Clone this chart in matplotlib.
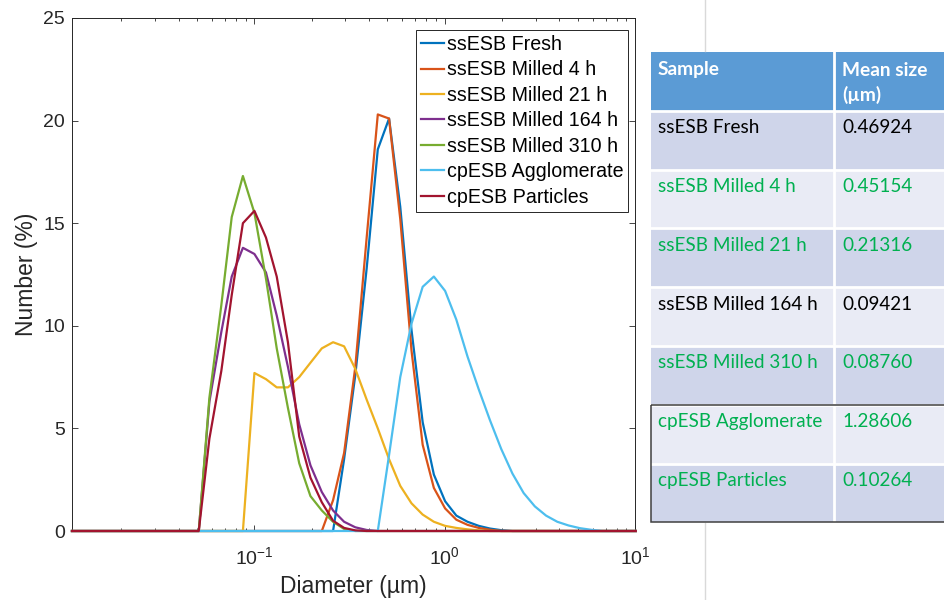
import matplotlib.pyplot as plt
from matplotlib.patches import Rectangle

plt.rcParams['font.family'] = ['Liberation Sans', 'DejaVu Sans']
plt.rcParams['mathtext.fontset'] = 'custom'
plt.rcParams['mathtext.rm'] = 'Liberation Sans'

# size classes of the analyser (um)
diameter_um = [0.011, 0.013, 0.015, 0.017, 0.020, 0.023, 0.026, 0.030, 0.034, 0.039,
               0.044, 0.051, 0.058, 0.067, 0.076, 0.087, 0.100, 0.115, 0.131, 0.150,
               0.172, 0.197, 0.226, 0.259, 0.296, 0.339, 0.389, 0.445, 0.510, 0.584,
               0.669, 0.766, 0.877, 1.005, 1.151, 1.318, 1.510, 1.729, 1.981, 2.269,
               2.599, 2.976, 3.409, 3.905, 4.472, 5.122, 5.867, 6.720, 7.697, 8.816,
               10.097]

# number distributions (%)
ss_fresh = [0, 0, 0, 0, 0, 0, 0, 0, 0, 0,
            0, 0, 0, 0, 0, 0, 0, 0, 0, 0,
            0, 0, 0, 0, 3.5, 7.6, 12.8, 18.6, 20.1, 15.8,
            9.8, 5.3, 2.75, 1.45, 0.75, 0.45, 0.25, 0.12, 0.04, 0,
            0, 0, 0, 0, 0, 0, 0, 0, 0, 0,
            0]
ss_4h = [0, 0, 0, 0, 0, 0, 0, 0, 0, 0,
         0, 0, 0, 0, 0, 0, 0, 0, 0, 0,
         0, 0, 0, 1.5, 3.8, 8.0, 14.3, 20.3, 20.1, 15.2,
         8.8, 4.2, 2.1, 1.1, 0.55, 0.3, 0.15, 0.06, 0, 0,
         0, 0, 0, 0, 0, 0, 0, 0, 0, 0,
         0]
ss_21h = [0, 0, 0, 0, 0, 0, 0, 0, 0, 0,
          0, 0, 0, 0, 0, 0, 7.7, 7.4, 7.0, 7.0,
          7.5, 8.2, 8.9, 9.2, 9.0, 7.9, 6.4, 5.0, 3.5, 2.2,
          1.35, 0.8, 0.45, 0.25, 0.15, 0.08, 0.03, 0, 0, 0,
          0, 0, 0, 0, 0, 0, 0, 0, 0, 0,
          0]
ss_164h = [0, 0, 0, 0, 0, 0, 0, 0, 0, 0,
           0, 0, 6.3, 9.7, 12.4, 13.8, 13.5, 12.6, 10.5, 8.0,
           5.2, 3.2, 1.9, 1.0, 0.45, 0.18, 0.05, 0, 0, 0,
           0, 0, 0, 0, 0, 0, 0, 0, 0, 0,
           0, 0, 0, 0, 0, 0, 0, 0, 0, 0,
           0]
ss_310h = [0, 0, 0, 0, 0, 0, 0, 0, 0, 0,
           0, 0, 6.5, 11.0, 15.3, 17.3, 15.5, 12.3, 8.9, 6.0,
           3.3, 1.7, 1.0, 0.45, 0.1, 0, 0, 0, 0, 0,
           0, 0, 0, 0, 0, 0, 0, 0, 0, 0,
           0, 0, 0, 0, 0, 0, 0, 0, 0, 0,
           0]
cp_agglomerate = [0, 0, 0, 0, 0, 0, 0, 0, 0, 0,
                  0, 0, 0, 0, 0, 0, 0, 0, 0, 0,
                  0, 0, 0, 0, 0, 0, 0, 0, 3.7, 7.5,
                  10.1, 11.9, 12.4, 11.7, 10.3, 8.5, 6.9, 5.4, 4.0, 2.8,
                  1.85, 1.2, 0.75, 0.45, 0.27, 0.14, 0.06, 0, 0, 0,
                  0]
cp_particles = [0, 0, 0, 0, 0, 0, 0, 0, 0, 0,
                0, 0, 4.5, 7.8, 11.5, 15.0, 15.6, 14.3, 12.4, 9.2,
                4.6, 2.6, 1.4, 0.5, 0.15, 0.03, 0, 0, 0, 0,
                0, 0, 0, 0, 0, 0, 0, 0, 0, 0,
                0, 0, 0, 0, 0, 0, 0, 0, 0, 0,
                0]

series = [ss_fresh, ss_4h, ss_21h, ss_164h, ss_310h, cp_agglomerate, cp_particles]
labels = ['ssESB Fresh', 'ssESB Milled 4 h', 'ssESB Milled 21 h', 'ssESB Milled 164 h',
          'ssESB Milled 310 h', 'cpESB Agglomerate', 'cpESB Particles']
colors = ['#0072BD', '#D95319', '#EDB120', '#7E2F8E', '#77AC30', '#4DBEEE', '#A2142F']

# table on the right
table_samples = ['ssESB Fresh', 'ssESB Milled 4 h', 'ssESB Milled 21 h', 'ssESB Milled 164 h',
                 'ssESB Milled 310 h', 'cpESB Agglomerate', 'cpESB Particles']
table_means = ['0.46924', '0.45154', '0.21316', '0.09421', '0.08760', '1.28606', '0.10264']
table_green = [False, True, True, False, True, True, True]

fig = plt.figure(figsize=(9.44, 6), dpi=100)

# pixel-coordinate overlay for the table
tab = fig.add_axes([0, 0, 1, 1])
tab.set_xlim(0, 944)
tab.set_ylim(600, 0)
tab.axis('off')

x0, xs, x1 = 651, 833.5, 960
top, pitch = 52, 58.8
tab.add_patch(Rectangle((x0, top), x1 - x0, pitch, color='#5B9BD5', lw=0))
tab.text(x0 + 7, top + 18, 'Sample', color='white', fontweight='bold',
         fontsize=13.8, family='Lato', va='center')
tab.text(xs + 9, top + 18, 'Mean size', color='white', fontweight='bold',
         fontsize=13.8, family='Lato', va='center')
tab.text(xs + 9, top + 43, '(µm)', color='white', fontweight='bold',
         fontsize=13.8, family='Lato', va='center')
for i, (name, val, grn) in enumerate(zip(table_samples, table_means, table_green)):
    y = top + pitch * (i + 1)
    fill = '#CFD5EA' if i % 2 == 0 else '#E9EBF5'
    tab.add_patch(Rectangle((x0, y), x1 - x0, pitch, color=fill, lw=0))
    tc = '#00B050' if grn else 'black'
    tab.text(x0 + 7, y + 17, name, color=tc, fontsize=13.6, family='Lato', va='center')
    tab.text(xs + 9, y + 17, val, color=tc, fontsize=13.6, family='Lato', va='center')
for i in range(1, 8):
    tab.plot([x0, x1], [top + pitch * i, top + pitch * i], color='white', lw=2)
tab.plot([xs, xs], [top, top + pitch * 8], color='white', lw=2)
tab.add_patch(Rectangle((x0, top + pitch * 6), x1 - x0, pitch * 2, fill=False,
                        edgecolor='#404040', lw=1.1, zorder=5))
tab.plot([705, 705], [0, top - 1], color='#D9D9D9', lw=1)
tab.plot([705, 705], [top + pitch * 8 + 1, 600], color='#D9D9D9', lw=1)

# main chart
ax = fig.add_axes([72 / 944, 69 / 600, 563 / 944, 513 / 600])
for y, lab, col in zip(series, labels, colors):
    ax.plot(diameter_um, y, color=col, lw=1.6, label=lab, clip_on=False, zorder=3)

ax.set_xscale('log')
ax.set_xlim(0.011, 10)
ax.set_ylim(0, 25)
ax.set_yticks([0, 5, 10, 15, 20, 25])
ax.tick_params(which='both', direction='in', top=True, right=True,
               colors='#262626', labelsize=14)
ax.tick_params(which='major', length=4, width=0.6, pad=5)
ax.tick_params(axis='x', which='major', pad=11)
ax.tick_params(which='minor', length=2.2, width=0.6)
for s in ax.spines.values():
    s.set_color('#262626')
    s.set_linewidth(0.7)

ax.set_xlabel('Diameter (µm)', fontsize=16.5, color='#262626', labelpad=5)
ax.set_ylabel('Number (%)', fontsize=16.5, color='#262626', labelpad=4)

leg = ax.legend(loc='upper right', bbox_to_anchor=(0.9876, 0.9766), borderaxespad=0,
                fontsize=14.1, handlelength=1.2, handletextpad=0.12, labelspacing=0.33,
                borderpad=0.25, fancybox=False, framealpha=1)
leg.get_frame().set_edgecolor('#262626')
leg.get_frame().set_linewidth(0.7)

plt.savefig('out.png', dpi=100)
